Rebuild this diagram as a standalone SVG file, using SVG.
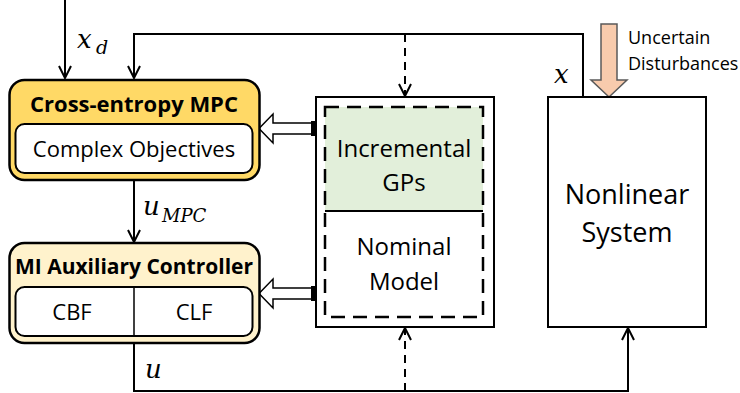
<svg xmlns="http://www.w3.org/2000/svg" width="740" height="393" viewBox="0 0 740 393">
<style>
.t{font-family:"Open Sans","Noto Sans",sans-serif;fill:#000}
.b{font-weight:bold}
.m{font-family:"DejaVu Serif",serif;font-style:italic;fill:#000}
.ln{fill:none;stroke:#000;stroke-width:2}
.dash{fill:none;stroke:#000;stroke-width:2;stroke-dasharray:8,6}
</style>
<defs>
<marker id="ah" viewBox="0 0 14 14" refX="13" refY="7" markerWidth="14" markerHeight="14" markerUnits="userSpaceOnUse" orient="auto">
<path d="M1,1 L13,7 L1,13" fill="none" stroke="#000" stroke-width="2"/>
</marker>
</defs>
<rect width="740" height="393" fill="#fff"/>
<g id="connectors">
<path class="ln" d="M65,0 V78" marker-end="url(#ah)"/>
<path class="ln" d="M583,97 V34 H134 V78" marker-end="url(#ah)"/>
<path class="dash" d="M405,34 V96" marker-end="url(#ah)"/>
<path class="ln" d="M134,180 V242" marker-end="url(#ah)"/>
<path class="ln" d="M134,343 V391 H628 V328" marker-end="url(#ah)"/>
<path class="dash" d="M405,391 V328" marker-end="url(#ah)"/>
<path d="M312,123 H273 V114 L259,128.5 L273,143 V134 H312 Z" fill="#fff" stroke="#000" stroke-width="1.5"/>
<rect x="311" y="121" width="5" height="15" fill="#000"/>
<path d="M312,288 H273 V279 L259,293.5 L273,308 V299 H312 Z" fill="#fff" stroke="#000" stroke-width="1.5"/>
<rect x="311" y="286" width="5" height="15" fill="#000"/>
<path d="M601,24 H617 V80 H627 L609,97 L591,80 H601 Z" fill="#F8CBAD" stroke="#595959" stroke-width="1.5"/>
</g>
<g id="labels">
<text class="m" x="77" y="48" font-size="26">x</text><text class="m" x="96" y="54" font-size="19">d</text>
<text class="m" x="143" y="215" font-size="26">u</text><text class="m" x="162" y="222" font-size="18">MPC</text>
<text class="m" x="145" y="378" font-size="26">u</text>
<text class="m" x="554" y="83" font-size="26">x</text>
<text class="t" x="628" y="44" font-size="18">Uncertain</text>
<text class="t" x="628" y="70" font-size="18">Disturbances</text>
</g>
<g id="mpc">
<rect x="9.5" y="80" width="250" height="100" rx="15" fill="#FFD966" stroke="#000" stroke-width="2.5"/>
<rect x="15.5" y="124" width="237" height="49" rx="9" fill="#fff" stroke="#000" stroke-width="2"/>
<text class="t b" x="134" y="112" font-size="22" text-anchor="middle">Cross-entropy MPC</text>
<text class="t" x="134" y="157" font-size="22" text-anchor="middle">Complex Objectives</text>
</g>
<g id="mi">
<rect x="9.5" y="243" width="250" height="100" rx="15" fill="#FFF2CC" stroke="#000" stroke-width="2.5"/>
<rect x="15.5" y="287" width="237" height="49" rx="9" fill="#fff" stroke="#000" stroke-width="2"/>
<line x1="134" y1="287" x2="134" y2="336" stroke="#000" stroke-width="1.5"/>
<text class="t b" x="134" y="274" font-size="21" text-anchor="middle">MI Auxiliary Controller</text>
<text class="t" x="72" y="320" font-size="22" text-anchor="middle">CBF</text>
<text class="t" x="194" y="320" font-size="22" text-anchor="middle">CLF</text>
</g>
<g id="models">
<rect x="316" y="97" width="178" height="230" fill="#fff" stroke="#000" stroke-width="2"/>
<rect x="325" y="107" width="158" height="104" fill="#E2EFDA"/>
<line x1="325" y1="211" x2="483" y2="211" stroke="#000" stroke-width="2"/>
<rect x="325" y="107" width="158" height="210" fill="none" stroke="#000" stroke-width="2.5" stroke-dasharray="14,8"/>
<text class="t" x="404" y="157" font-size="24" text-anchor="middle">Incremental</text>
<text class="t" x="404" y="191" font-size="24" text-anchor="middle">GPs</text>
<text class="t" x="404" y="255" font-size="24" text-anchor="middle">Nominal</text>
<text class="t" x="404" y="290" font-size="24" text-anchor="middle">Model</text>
</g>
<g id="system">
<rect x="548" y="97" width="158" height="230" fill="#fff" stroke="#000" stroke-width="2"/>
<text class="t" x="627" y="204" font-size="27" text-anchor="middle">Nonlinear</text>
<text class="t" x="627" y="242" font-size="27" text-anchor="middle">System</text>
</g>
</svg>
